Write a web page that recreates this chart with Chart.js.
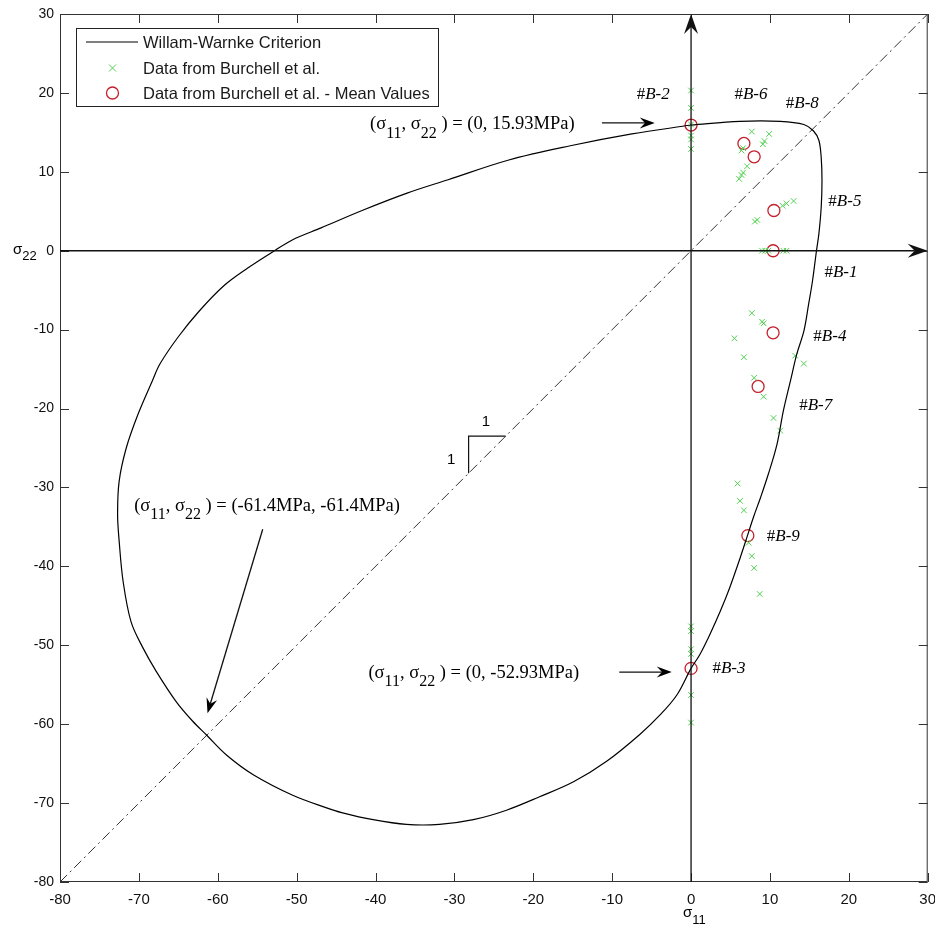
<!DOCTYPE html>
<html>
<head>
<meta charset="utf-8">
<title>Willam-Warnke Criterion vs Burchell data</title>
<script src="https://cdn.jsdelivr.net/npm/chart.js@4.4.1/dist/chart.umd.min.js"></script>
<style>
  body { margin: 0; background: #fff; }
  #wrap { width: 935px; height: 930px; }
</style>
</head>
<body>
<div id="wrap"><canvas id="failureChart" width="935" height="930"></canvas></div>
<script>
// failure surface (MPa), going clockwise from (0, 15.93)
const criterionS11 = [0, 6.2, 11.3, 14.3, 15.5, 16.2, 16.5, 16.6, 16.5, 16.2, 15.9, 15.4, 14.9, 14.3, 13.4, 12.6, 11.7, 10.9, 9.8, 8.8, 7.9, 7.15, 6.2, 4.9, 3.7, 2.4, 1.1, 0, -1.8, -3.9, -6.5, -10.7, -14.9, -19.2, -23.4, -27.6, -31.9, -36.1, -40.3, -44.3, -46.2, -50.5, -55.5, -58.9, -61.4, -63.2, -65.3, -67.8, -69.5, -71.0, -72.0, -72.5, -72.7, -72.5, -71.6, -70.1, -68.3, -67.3, -65.0, -62.4, -59.3, -56.2, -52.8, -50.5, -46.9, -41.7, -36.0, -30.8, -23.1, -15.3, -7.5, 0];
const criterionS22 = [15.93, 16.4, 16.4, 16.0, 15.2, 14.0, 11.8, 8.9, 5.5, 2.1, 0, -3.8, -6.8, -10.2, -13.1, -16.5, -20.3, -24.5, -28.3, -31.3, -33.8, -36.1, -39.0, -42.7, -45.7, -48.6, -51.2, -52.93, -56.3, -58.8, -61.3, -64.7, -67.3, -69.2, -70.9, -72.1, -72.7, -72.7, -72.1, -71.2, -70.6, -69.0, -66.4, -63.9, -61.4, -59.6, -57.1, -53.3, -50.3, -47.0, -41.9, -36.8, -33.4, -29.2, -25.0, -20.7, -16.5, -14.3, -10.9, -7.7, -4.5, -2.2, 0, 1.4, 2.9, 5.1, 7.3, 9.0, 11.5, 13.3, 14.8, 15.93];

// individual test results
const burchellS11 = [0, 0, 0, 0, 0, 0,
  7.7, 9.9, 9.1, 9.3, 6.4, 6.6, 7.1, 6.6, 6.1, 6.4,
  13.0, 12.1, 11.6, 8.1, 8.4,
  9.0, 9.4, 9.8, 11.7, 12.1,
  7.7, 9.0, 9.2, 5.5, 6.7,
  13.2, 14.3, 8.0, 9.2, 10.45, 11.3,
  5.9, 6.2, 6.7, 7.3, 7.7, 8.0, 8.7,
  0, 0, 0, 0, 0, 0];
const burchellS22 = [20.3, 18.1, 16.0, 14.6, 14.1, 12.9,
  15.1, 14.8, 13.5, 13.9, 12.7, 13.0, 10.7, 9.9, 9.1, 9.6,
  6.3, 6.0, 5.7, 3.7, 3.9,
  0, 0, 0, 0, 0,
  -7.9, -9.0, -9.2, -11.1, -13.5,
  -13.3, -14.3, -16.1, -18.5, -21.2, -22.8,
  -29.5, -31.7, -32.9, -37.0, -38.7, -40.2, -43.5,
  -47.6, -48.2, -50.5, -51.1, -56.3, -59.8];

// mean value per test series
const meanLabels = ['#B-2', '#B-6', '#B-8', '#B-5', '#B-1', '#B-4', '#B-7', '#B-9', '#B-3'];
const meanS11 = [0, 6.7, 8.0, 10.5, 10.4, 10.4, 8.5, 7.2, 0];
const meanS22 = [15.93, 13.6, 11.9, 5.1, 0, -10.4, -17.2, -36.1, -52.93];

// equal biaxial line
const diagonalS11 = [-80, 30];
const diagonalS22 = [-80, 30];

const axisMin = -80, axisMax = 30, tickStep = 10;

// where the #B labels sit (centre, MPa)
const labelSpots = [[-4.8, 19.8], [7.6, 19.8], [14.1, 18.6], [19.5, 6.2], [19.0, -2.7], [17.6, -10.9], [15.8, -19.6], [11.7, -36.2], [4.8, -53.0]];

const serif = "'Liberation Serif', 'Times New Roman', serif";
const sans = "'Liberation Sans', Arial, sans-serif";

function sigmaParts(rest) {
    return [{ t: '(\u03c3' }, { t: '11', sub: true }, { t: ', \u03c3' }, { t: '22', sub: true }, { t: ' ) = ' + rest }];
}

const callouts = [
    { parts: sigmaParts('(0, 15.93MPa)'), x: -40.7, y: 15.4, from: [-11.3, 16.2], to: [-4.6, 16.2] },
    { parts: sigmaParts('(-61.4MPa, -61.4MPa)'), x: -70.6, y: -33.0, from: [-54.3, -35.3], to: [-61.3, -58.6] },
    { parts: sigmaParts('(0, -52.93MPa)'), x: -40.9, y: -54.1, from: [-9.1, -53.4], to: [-2.45, -53.4] }
];

const toPoints = (xs, ys) => xs.map((x, i) => ({ x: x, y: ys[i] }));

function drawRich(ctx, parts, x, y, size, family) {
    let cx = x;
    parts.forEach(p => {
        const s = p.sub ? Math.round(size * 0.85) : size;
        ctx.font = (p.italic ? 'italic ' : '') + s + 'px ' + family;
        ctx.fillText(p.t, cx, y + (p.sub ? size * 0.45 : 0));
        cx += ctx.measureText(p.t).width;
    });
    return cx - x;
}

function drawArrow(ctx, x1, y1, x2, y2, len, half) {
    const ang = Math.atan2(y2 - y1, x2 - x1);
    const notch = len * 0.65;
    ctx.beginPath();
    ctx.moveTo(x1, y1);
    ctx.lineTo(x2 - Math.cos(ang) * notch, y2 - Math.sin(ang) * notch);
    ctx.stroke();
    ctx.save();
    ctx.translate(x2, y2);
    ctx.rotate(ang);
    ctx.beginPath();
    ctx.moveTo(0, 0);
    ctx.lineTo(-len, -half);
    ctx.lineTo(-notch, 0);
    ctx.lineTo(-len, half);
    ctx.closePath();
    ctx.fill();
    ctx.restore();
}

// box, inward ticks, axes through origin, notes and legend
const decorations = {
    id: 'decorations',
    afterDraw(chart) {
        const ctx = chart.ctx;
        const a = chart.chartArea;
        const xs = chart.scales.x, ys = chart.scales.y;
        const px = v => xs.getPixelForValue(v);
        const py = v => ys.getPixelForValue(v);
        ctx.save();

        // frame and ticks
        ctx.strokeStyle = '#333';
        ctx.lineWidth = 1;
        ctx.strokeRect(a.left + 0.5, a.top + 0.5, a.right - a.left - 1, a.bottom - a.top - 1);
        ctx.beginPath();
        for (let v = axisMin; v <= axisMax; v += tickStep) {
            const x = Math.round(px(v)) + 0.5, y = Math.round(py(v)) + 0.5;
            ctx.moveTo(x, a.bottom); ctx.lineTo(x, a.bottom - 9);
            ctx.moveTo(x, a.top); ctx.lineTo(x, a.top + 9);
            ctx.moveTo(a.left, y); ctx.lineTo(a.left + 9, y);
            ctx.moveTo(a.right, y); ctx.lineTo(a.right - 9, y);
        }
        ctx.stroke();

        // axes through the origin
        ctx.strokeStyle = '#111';
        ctx.fillStyle = '#111';
        ctx.lineWidth = 1.3;
        drawArrow(ctx, px(0), a.bottom, px(0), a.top, 20, 7);
        drawArrow(ctx, a.left, py(0), a.right, py(0), 20, 7);

        // slope triangle
        ctx.lineWidth = 1.2;
        ctx.beginPath();
        ctx.moveTo(px(-23.5), py(-23.5));
        ctx.lineTo(px(-28.2), py(-23.5));
        ctx.lineTo(px(-28.2), py(-28.2));
        ctx.stroke();
        ctx.fillStyle = '#000';
        ctx.font = '15px ' + sans;
        ctx.textAlign = 'center';
        ctx.textBaseline = 'middle';
        ctx.fillText('1', px(-26.0), py(-21.7));
        ctx.fillText('1', px(-30.4), py(-26.5));

        // callouts with arrows
        ctx.textAlign = 'left';
        ctx.textBaseline = 'alphabetic';
        callouts.forEach(c => {
            drawRich(ctx, c.parts, px(c.x), py(c.y), 18.5, serif);
            ctx.lineWidth = 1.3;
            drawArrow(ctx, px(c.from[0]), py(c.from[1]), px(c.to[0]), py(c.to[1]), 15, 5.5);
        });

        // series labels
        ctx.textBaseline = 'middle';
        meanLabels.forEach((lab, i) => {
            const parts = [{ t: '#' }, { t: lab.slice(1), italic: true }];
            ctx.font = '17px ' + serif;
            let w = ctx.measureText('#').width;
            ctx.font = 'italic 17px ' + serif;
            w += ctx.measureText(lab.slice(1)).width;
            drawRich(ctx, parts, px(labelSpots[i][0]) - w / 2, py(labelSpots[i][1]), 17, serif);
        });

        // axis titles
        ctx.textBaseline = 'alphabetic';
        drawRich(ctx, [{ t: '\u03c3' }, { t: '22', sub: true }], 13, py(0) + 3, 15, sans);
        drawRich(ctx, [{ t: '\u03c3' }, { t: '11', sub: true }], px(0) - 8, 917, 15, sans);

        // legend
        const lx = a.left + 16, ly = a.top + 14;
        ctx.fillStyle = '#fff';
        ctx.fillRect(lx, ly, 362, 78);
        ctx.strokeStyle = '#222';
        ctx.lineWidth = 1;
        ctx.strokeRect(lx + 0.5, ly + 0.5, 362, 78);
        const ds = chart.data.datasets;
        const rows = [ly + 14, ly + 40, ly + 65];
        ctx.font = '16.5px ' + sans;
        ctx.textBaseline = 'middle';
        ctx.fillStyle = '#1a1a1a';
        [0, 1, 2].forEach((k, r) => {
            const y = rows[r];
            const d = ds[k];
            ctx.strokeStyle = d.borderColor;
            ctx.lineWidth = d.borderWidth;
            ctx.beginPath();
            if (k === 0) {
                ctx.moveTo(lx + 10, y); ctx.lineTo(lx + 62, y);
            } else if (k === 1) {
                ctx.moveTo(lx + 33, y - 3.5); ctx.lineTo(lx + 40, y + 3.5);
                ctx.moveTo(lx + 33, y + 3.5); ctx.lineTo(lx + 40, y - 3.5);
            } else {
                ctx.arc(lx + 36.5, y, 6, 0, Math.PI * 2);
            }
            ctx.stroke();
            ctx.fillText(d.label, lx + 67, y + 1);
        });
        ctx.restore();
    }
};

const ctx = document.getElementById('failureChart').getContext('2d');
const chart = new Chart(ctx, {
    type: 'scatter',
    data: {
        datasets: [
            {
                label: 'Willam-Warnke Criterion',
                data: toPoints(criterionS11, criterionS22),
                showLine: true,
                borderColor: '#000',
                borderWidth: 1.2,
                pointRadius: 0,
                tension: 0.35,
                fill: false
            },
            {
                label: 'Data from Burchell et al.',
                data: toPoints(burchellS11, burchellS22),
                pointStyle: 'crossRot',
                pointRadius: 4,
                borderColor: '#52d052',
                backgroundColor: 'transparent',
                borderWidth: 1
            },
            {
                label: 'Data from Burchell et al. - Mean Values',
                data: toPoints(meanS11, meanS22),
                pointStyle: 'circle',
                pointRadius: 6,
                borderColor: '#c4202c',
                backgroundColor: 'transparent',
                borderWidth: 1.3
            },
            {
                label: 'equal biaxial',
                data: toPoints(diagonalS11, diagonalS22),
                showLine: true,
                borderColor: '#333',
                borderWidth: 1,
                borderDash: [10, 4, 2, 4],
                pointRadius: 0
            }
        ]
    },
    options: {
        responsive: false,
        animation: false,
        events: [],
        layout: { padding: { top: 14, right: 4, left: 0, bottom: 0 } },
        plugins: { legend: { display: false }, tooltip: { enabled: false } },
        scales: {
            x: {
                type: 'linear', min: axisMin, max: axisMax,
                grid: { display: false, drawTicks: false },
                border: { display: false },
                ticks: { stepSize: tickStep, padding: 9, color: '#111', maxRotation: 0,
                         font: { family: "'Liberation Sans Narrow', 'Liberation Sans', Arial", size: 15 } },
                afterFit(s) { s.height = 48; s.paddingLeft = 0; s.paddingRight = 0; }
            },
            y: {
                type: 'linear', min: axisMin, max: axisMax,
                grid: { display: false, drawTicks: false },
                border: { display: false },
                ticks: { stepSize: tickStep, padding: 6, color: '#111',
                         font: { family: sans, size: 14 } },
                afterFit(s) { s.width = 60; s.paddingTop = 0; s.paddingBottom = 0; }
            }
        }
    },
    plugins: [decorations]
});
</script>
</body>
</html>
